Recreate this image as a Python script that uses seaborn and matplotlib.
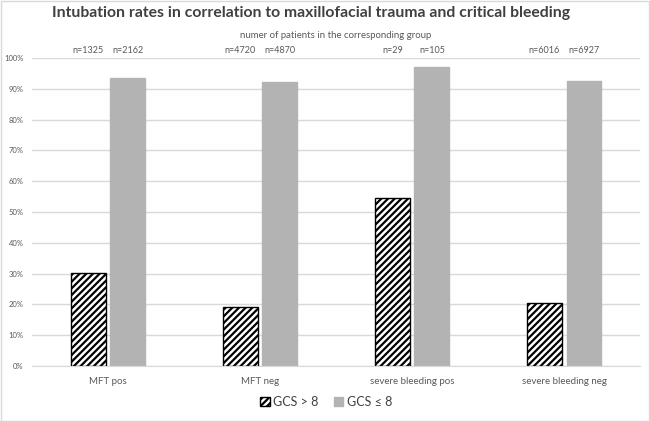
import pandas as pd
import matplotlib.pyplot as plt
import seaborn as sns
from matplotlib.patches import Patch, Rectangle

# data
groups = ['MFT pos', 'MFT neg', 'severe bleeding pos', 'severe bleeding neg']
series = ['GCS > 8', 'GCS ≤ 8']
rate_gcs_high = [0.301, 0.191, 0.546, 0.204]
rate_gcs_low = [0.934, 0.923, 0.972, 0.925]
n_gcs_high = ['n=1325', 'n=4720', 'n=29', 'n=6016']
n_gcs_low = ['n=2162', 'n=4870', 'n=105', 'n=6927']

df = pd.DataFrame({
    'group': groups * 2,
    'series': [series[0]] * 4 + [series[1]] * 4,
    'rate': rate_gcs_high + rate_gcs_low,
})

sns.set_style('white')
plt.rcParams['font.family'] = ['Lato', 'DejaVu Sans']
plt.rcParams['hatch.linewidth'] = 1.6

fig = plt.figure(figsize=(6.5, 4.21), dpi=100)
ax = fig.add_axes([0.049, 0.131, 0.936, 0.731])

sns.barplot(data=df, x='group', y='rate', hue='series', hue_order=series,
            order=groups, palette=['white', '#b3b3b3'], width=0.52, gap=0.12,
            legend=False, ax=ax)

# hatched first series, plain gray second
for bar in ax.containers[0]:
    bar.set_hatch('/////')
    bar.set_edgecolor('black')
    bar.set_linewidth(1.0)
for bar in ax.containers[1]:
    bar.set_edgecolor('#b3b3b3')

# n labels above the plot area
for cont, labels in zip(ax.containers, [n_gcs_high, n_gcs_low]):
    for bar, lab in zip(cont, labels):
        ax.text(bar.get_x() + bar.get_width() / 2, 1.024, lab,
                transform=ax.get_xaxis_transform(), ha='center', va='center',
                fontsize=6.5, color='#595959')

ax.text(0.5, 1.075, 'numer of patients in the corresponding group',
        transform=ax.transAxes, ha='center', va='center', fontsize=6.9, color='#595959')

fig.text(0.478, 0.968, 'Intubation rates in correlation to maxillofacial trauma and critical bleeding',
         ha='center', va='center', fontsize=11.3, fontweight='bold', color='#404040')

ax.set_ylim(0, 1)
ax.set_xlim(-0.5, 3.5)
ax.set_yticks([i / 10 for i in range(11)])
ax.set_yticklabels([f'{i * 10}%' for i in range(11)], fontsize=5.5, color='#595959')
ax.tick_params(axis='x', labelsize=7, colors='#595959', length=0, pad=8)
ax.tick_params(axis='y', length=0, pad=6)
ax.set_xlabel('')
ax.set_ylabel('')
ax.grid(True, axis='y', color='#d9d9d9', linewidth=1)
ax.set_axisbelow(True)
for side in ['left', 'right', 'top']:
    ax.spines[side].set_visible(False)
ax.spines['bottom'].set_color('#d9d9d9')

handles = [Patch(facecolor='white', edgecolor='black', hatch='/////', label=series[0]),
           Patch(facecolor='#b3b3b3', edgecolor='#b3b3b3', label=series[1])]
fig.legend(handles=handles, loc='center', bbox_to_anchor=(0.502, 0.045), ncol=2,
           frameon=False, fontsize=9, handlelength=0.75, handleheight=0.75,
           handletextpad=0.3, columnspacing=1.2, labelcolor='#404040')

fig.patches.append(Rectangle((0.001, 0.001), 0.997, 0.997, transform=fig.transFigure,
                             fill=False, edgecolor='#d9d9d9', linewidth=1))

fig.savefig('out.png', dpi=100)
